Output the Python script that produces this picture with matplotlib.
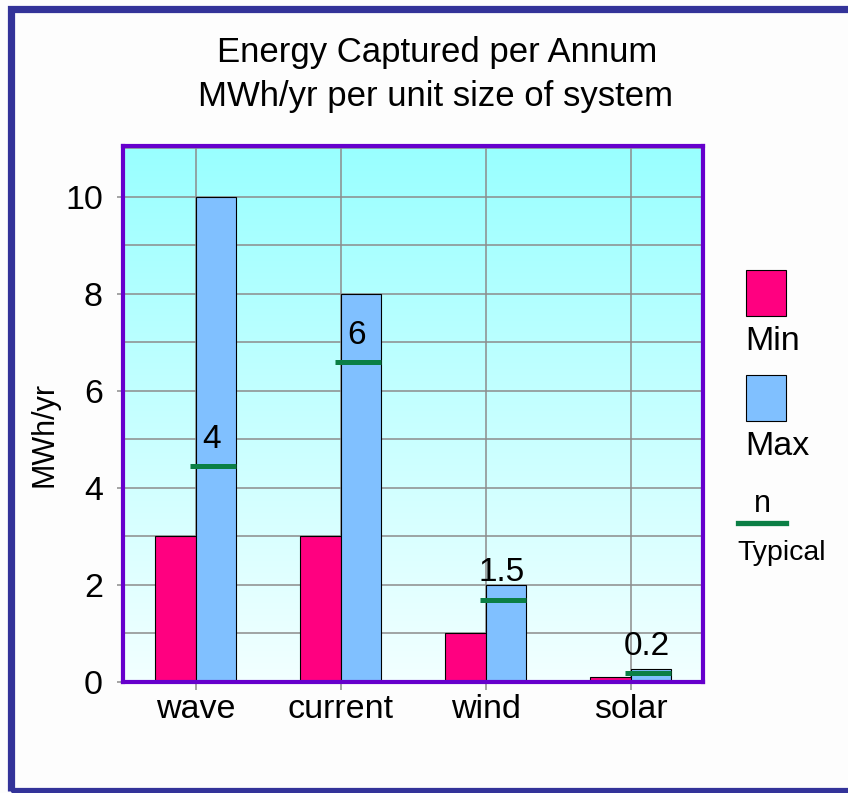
import numpy as np
import matplotlib
matplotlib.use("Agg")
import matplotlib.pyplot as plt
from matplotlib.patches import Rectangle
from matplotlib.lines import Line2D

# ---- data ----
categories = ["wave", "current", "wind", "solar"]
min_values = [3, 3, 1, 0.1]
max_values = [10, 8, 2, 0.27]
typical_values = [4.45, 6.6, 1.7, 0.18]
typical_labels = ["4", "6", "1.5", "0.2"]
yticks = [0, 2, 4, 6, 8, 10]
title_lines = ["Energy Captured per Annum", "MWh/yr per unit size of system"]
ylabel_text = "MWh/yr"

NF = "Liberation Sans"

W, H = 848, 793
fig = plt.figure(figsize=(W / 100, H / 100), dpi=100)
fig.patch.set_facecolor("#FDFDFD")

def fx(px):
    return px / W

def fy(py):
    return 1 - py / H

# outer frame
fig.patches.append(Rectangle((fx(10.5), fy(790.5)), 1.2, (790.5 - 9) / H,
                             transform=fig.transFigure, fill=False,
                             edgecolor="#333399", linewidth=5.2, zorder=0))

ax = fig.add_axes([fx(123), fy(682), fx(703 - 123), (682 - 146) / H])
ax.set_xlim(-0.5, 3.5)
ax.set_ylim(0, 11.05)

# gradient background
grad = np.linspace(0, 1, 256).reshape(-1, 1)
top = np.array([153, 255, 255]) / 255
bot = np.array([242, 255, 255]) / 255
img = bot + (top - bot) * grad
img = img[:, None, :].repeat(2, axis=1)
ax.imshow(img, extent=[-0.5, 3.5, 0, 11.05], origin="lower", aspect="auto", zorder=-2)

x = np.arange(len(categories))
w = 0.276
ax.bar(x - w / 2, min_values, width=w, color="#FF0080", edgecolor="black", linewidth=0.8, zorder=2)
ax.bar(x + w / 2, max_values, width=w, color="#80C0FF", edgecolor="black", linewidth=0.8, zorder=2)
ax.hlines(typical_values, x - 0.04, x + w, colors="#0B7F45", linewidth=3.6, zorder=3)
for xi, tv, lab in zip(x, typical_values, typical_labels):
    ax.annotate(lab, (xi + 0.11, tv), xytext=(0, 13), textcoords="offset points",
                ha="center", va="baseline", fontsize=24, family=NF, zorder=4)

# grid
ax.set_yticks(yticks)
ax.set_yticks([1, 3, 5, 7, 9, 11], minor=True)
ax.set_xticks(x)
ax.set_xticklabels(categories)
ax.grid(True, which="both", axis="y", color="#8C8C8C", linewidth=1.1, zorder=0)
ax.grid(True, which="major", axis="x", color="#8C8C8C", linewidth=1.1, zorder=0)
ax.set_axisbelow(True)
ax.tick_params(axis="y", which="both", direction="out", length=4.5, width=1.1, color="#8C8C8C",
               pad=10, labelsize=24.5)
ax.tick_params(axis="y", which="minor", length=0)
ax.tick_params(axis="x", direction="out", length=6, width=1.1, color="#8C8C8C", pad=3,
               labelsize=24.5)
for lbl in ax.get_xticklabels() + ax.get_yticklabels():
    lbl.set_family(NF)
for sp in ax.spines.values():
    sp.set_color("#6600CC")
    sp.set_linewidth(3)
    sp.set_zorder(5)

# title
fig.text(fx(437), fy(62), title_lines[0], ha="center", va="baseline", fontsize=25, family=NF)
fig.text(fx(435), fy(106), title_lines[1], ha="center", va="baseline", fontsize=25, family=NF)

# y label
fig.text(fx(45), fy(434), ylabel_text, rotation=90, ha="center", va="center",
         fontsize=22, family=NF)

# legend (manual)
fig.patches.append(Rectangle((fx(746), fy(316)), fx(40), 46 / H, transform=fig.transFigure,
                             facecolor="#FF0080", edgecolor="black", linewidth=0.8))
fig.text(fx(745), fy(350), "Min", ha="left", va="baseline", fontsize=24.5, family=NF)
fig.patches.append(Rectangle((fx(746), fy(421)), fx(40), 46 / H, transform=fig.transFigure,
                             facecolor="#80C0FF", edgecolor="black", linewidth=0.8))
fig.text(fx(745), fy(455), "Max", ha="left", va="baseline", fontsize=24.5, family=NF)
fig.text(fx(762), fy(512), "n", ha="center", va="baseline", fontsize=22, family=NF)
fig.lines.append(Line2D([fx(738), fx(786)], [fy(523), fy(523)], transform=fig.transFigure,
                        color="#0B7F45", linewidth=3.8))
fig.text(fx(737), fy(560), "Typical", ha="left", va="baseline", fontsize=20.5, family=NF)

fig.savefig("out.png", dpi=100, facecolor=fig.get_facecolor())
